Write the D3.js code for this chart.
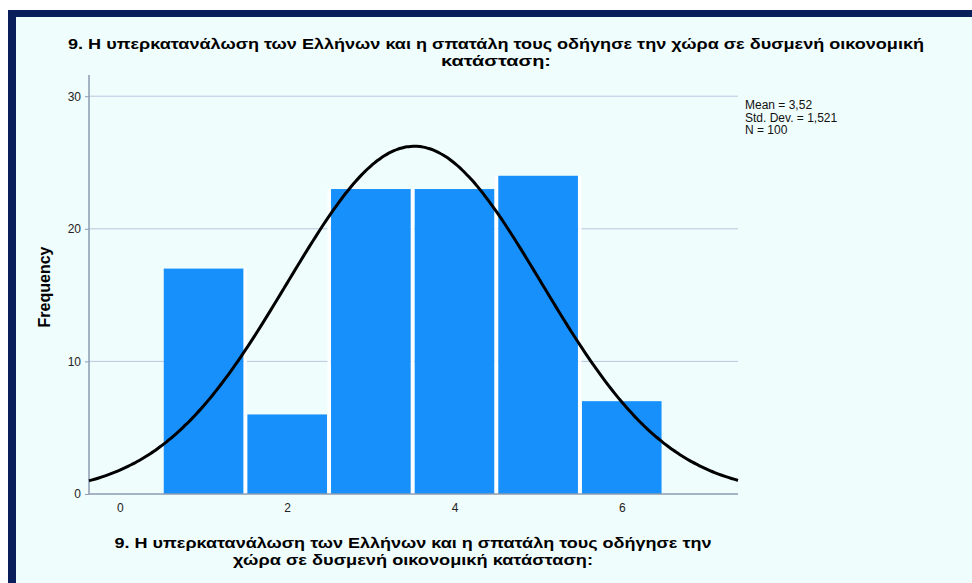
<!DOCTYPE html>
<html><head><meta charset="utf-8">
<script src="https://cdn.jsdelivr.net/npm/d3@7"></script>
<style>
html,body{margin:0;padding:0;background:#fff;}
svg{display:block;font-family:"Liberation Sans",Arial,sans-serif;}
</style></head>
<body>
<svg id="c" width="972" height="583"></svg>
<script>
const categories = [1, 2, 3, 4, 5, 6];
const frequencies = [17, 6, 23, 23, 24, 7];
const yTicks = [0, 10, 20, 30];
const xTicks = [0, 2, 4, 6];
const statLines = ["Mean = 3,52", "Std. Dev. = 1,521", "N = 100"];
const mean = 3.52, sd = 1.521, n = 100;
const titleLines = ["9. Η υπερκατανάλωση των Ελλήνων και η σπατάλη τους οδήγησε την χώρα σε δυσμενή οικονομική", "κατάσταση:"];
const titleWidths = [856, 110];
const xLabelLines = ["9. Η υπερκατανάλωση των Ελλήνων και η σπατάλη τους οδήγησε την", "χώρα σε δυσμενή οικονομική κατάσταση:"];
const xLabelWidths = [597, 360];

const svg = d3.select("#c");
// frame
svg.append("rect").attr("x",8).attr("y",10).attr("width",964).attr("height",573).attr("fill","#0a1e5c");
svg.append("rect").attr("x",16).attr("y",17).attr("width",956).attr("height",566).attr("fill","#effdfd");

const x = d3.scaleLinear().domain([-0.37, 7.39]).range([89, 738]);
const y = d3.scaleLinear().domain([0, 31.6]).range([494, 75]);

// gridlines
svg.append("g").selectAll("line").data(yTicks.filter(d=>d>0)).join("line")
  .attr("x1",89).attr("x2",738).attr("y1",d=>y(d)).attr("y2",d=>y(d))
  .attr("stroke","#b9c8dd").attr("stroke-width",1);

// bars
svg.append("g").selectAll("rect").data(categories).join("rect")
  .attr("x",(d)=>x(d-0.5)+2).attr("width",(d)=>x(d+0.5)-x(d-0.5)-4)
  .attr("y",(d,i)=>y(frequencies[i])).attr("height",(d,i)=>y(0)-y(frequencies[i]))
  .attr("fill","#1790fb");

// gaps (white lines between bars)
svg.append("g").selectAll("line").data(categories.slice(1)).join("line")
  .attr("x1",d=>x(d-0.5)).attr("x2",d=>x(d-0.5))
  .attr("y1",(d,i)=>Math.min(y(frequencies[i]),y(frequencies[i+1]))).attr("y2",y(0))
  .attr("stroke","#ffffff").attr("stroke-width",3);

// axes
const yAxis = d3.axisLeft(y).tickValues(yTicks).tickSize(4).tickPadding(4);
const gy = svg.append("g").attr("transform","translate(89,0)").call(yAxis);
gy.select(".domain").remove();
gy.selectAll(".tick line").attr("stroke","#8d9bb0");
gy.selectAll("text").attr("font-size",12).attr("fill","#222").attr("font-family","Liberation Sans, Arial, sans-serif");
svg.append("line").attr("x1",89).attr("x2",89).attr("y1",75).attr("y2",494).attr("stroke","#8d9bb0").attr("stroke-width",1.5);

const xAxis = d3.axisBottom(x).tickValues(xTicks).tickSize(0).tickPadding(9);
const gx = svg.append("g").attr("transform","translate(0,494)").call(xAxis);
gx.select(".domain").remove();
gx.selectAll("text").attr("font-size",12).attr("fill","#222").attr("font-family","Liberation Sans, Arial, sans-serif");
svg.append("line").attr("x1",89).attr("x2",738).attr("y1",494).attr("y2",494).attr("stroke","#8d9bb0").attr("stroke-width",1.5);

// normal curve
const pdf = v => n * Math.exp(-0.5*Math.pow((v-mean)/sd,2)) / (sd*Math.sqrt(2*Math.PI));
const xs = d3.range(0, 201).map(i => x.domain()[0] + (x.domain()[1]-x.domain()[0])*i/200);
svg.append("path").datum(xs)
  .attr("d", d3.line().x(d=>x(d)).y(d=>y(pdf(d))).curve(d3.curveBasis))
  .attr("fill","none").attr("stroke","#000").attr("stroke-width",3);

// title
svg.append("g").selectAll("text").data(titleLines).join("text")
  .attr("x",496).attr("y",(d,i)=>49+i*17).attr("text-anchor","middle")
  .attr("font-size",15.5).attr("font-weight","bold").attr("fill","#000")
  .attr("textLength",(d,i)=>titleWidths[i]).attr("lengthAdjust","spacingAndGlyphs").text(d=>d);

// x label
svg.append("g").selectAll("text").data(xLabelLines).join("text")
  .attr("x",413).attr("y",(d,i)=>548+i*17).attr("text-anchor","middle")
  .attr("font-size",15.5).attr("font-weight","bold").attr("fill","#000")
  .attr("textLength",(d,i)=>xLabelWidths[i]).attr("lengthAdjust","spacingAndGlyphs").text(d=>d);

// y label
svg.append("text").attr("transform","translate(50,287) rotate(-90)").attr("text-anchor","middle")
  .attr("font-size",16).attr("font-weight","bold").attr("fill","#000").text("Frequency");

// stats
svg.append("g").selectAll("text").data(statLines).join("text")
  .attr("x",745).attr("y",(d,i)=>109+i*12.6).attr("font-size",12).attr("fill","#111").text(d=>d);
</script>
</body></html>
